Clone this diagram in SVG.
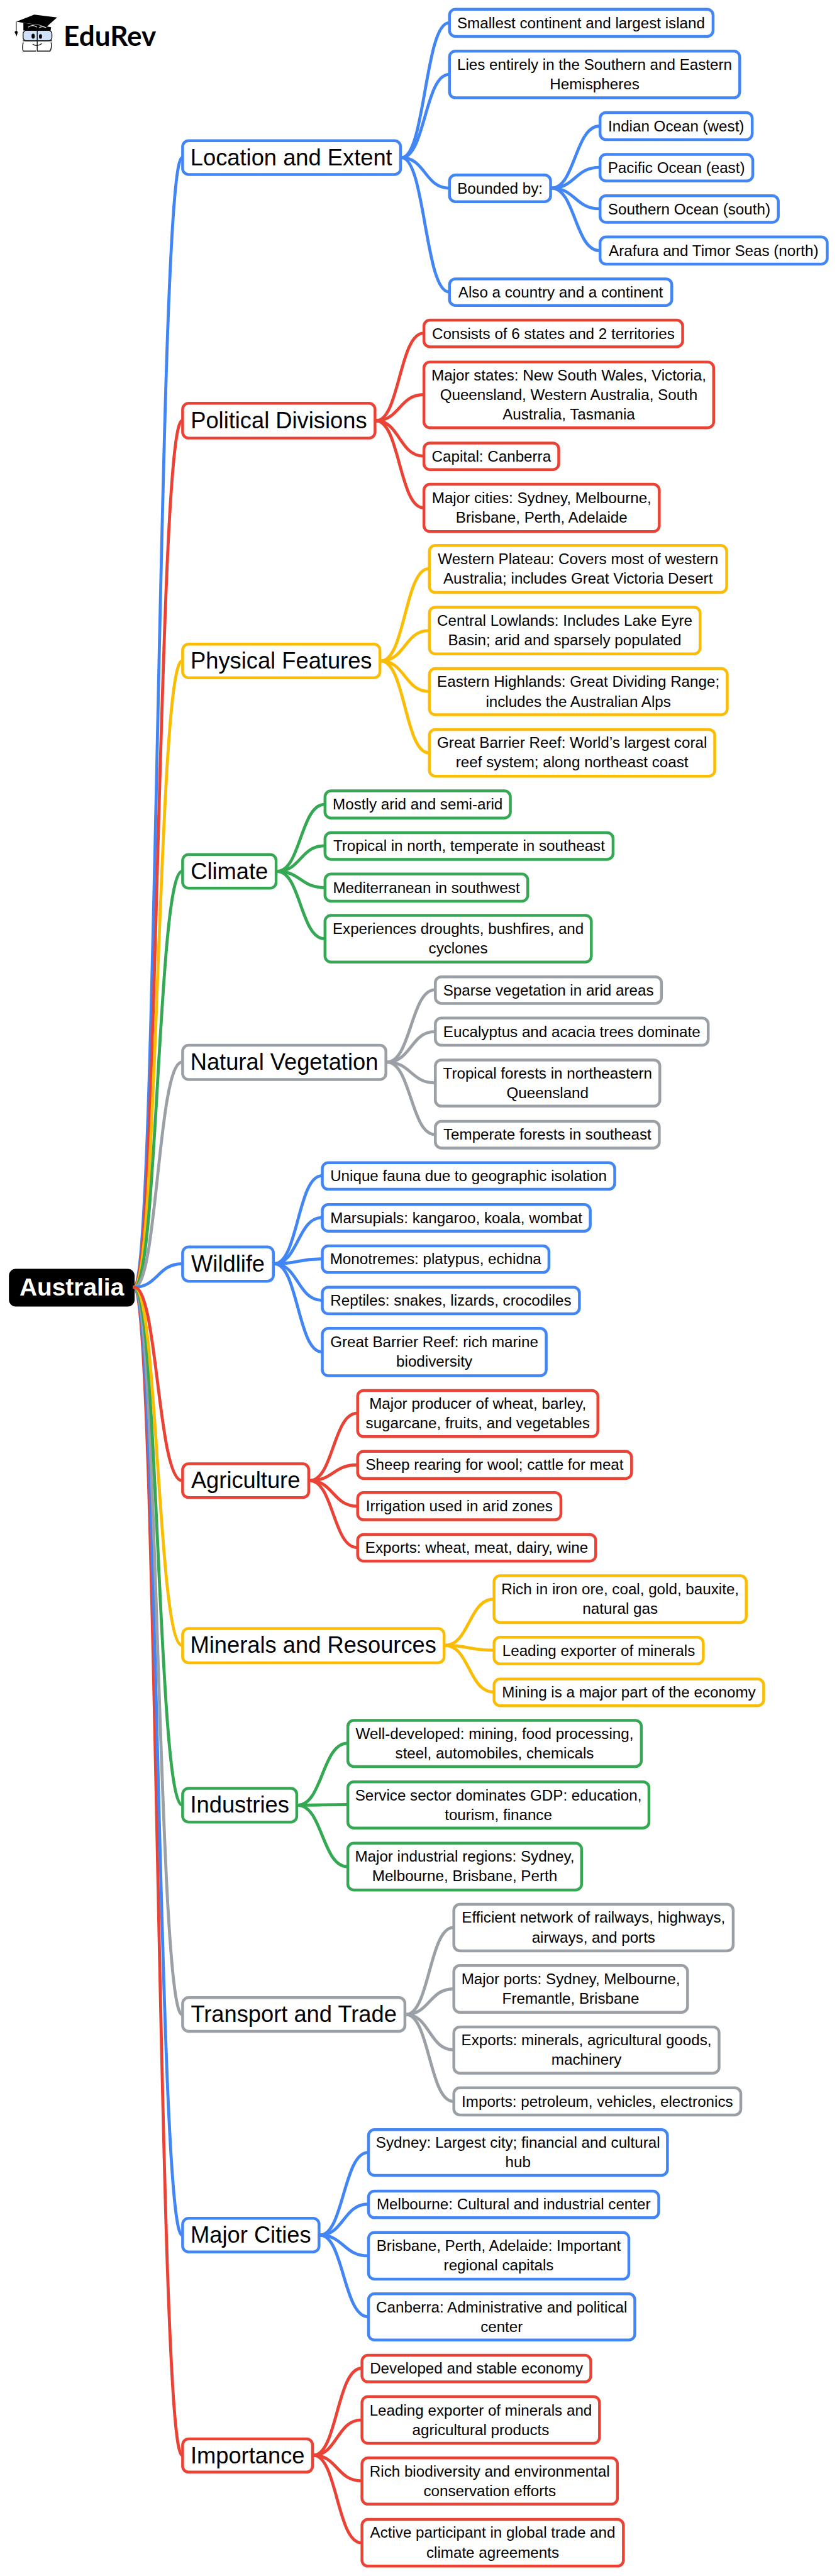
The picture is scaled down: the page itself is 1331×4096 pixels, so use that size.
<svg xmlns="http://www.w3.org/2000/svg" width="1331" height="4096" viewBox="0 0 1331 4096">
<style>
text{font-family:"Liberation Sans",Arial,sans-serif;fill:#000;text-anchor:middle}
.l{font-size:28px}.c{font-size:42px}
.r{font-size:45px;font-weight:700;fill:#fff}
rect{fill:#fff;stroke-width:5.2}
.blue rect,path.blue{stroke:#4285f4}.red rect,path.red{stroke:#ea4335}.yel rect,path.yel{stroke:#fbbc04}.grn rect,path.grn{stroke:#34a853}.gry rect,path.gry{stroke:#9aa0a6}
#links path{fill:none;stroke-width:5.6;stroke-linecap:round}
</style>
<rect width="1331" height="4096" style="fill:#fff;stroke:none"/>
<g transform="scale(0.8643)">
<g id="logo">
<path d="M30 40L63 27L105 32L85 50L74 46L43 42Z" fill="#000"/>
<path d="M43 42L94 50L93 57L43 56Z" fill="#000"/>
<path d="M52 50Q60 44 68 50M72 51Q78 47 85 51" fill="none" stroke="#fff" stroke-width="1.200"/>
<path d="M30 40V57M30 57L27.500 59L30.500 65L32 59Z" fill="#000" stroke="#000" stroke-width="1.200"/>
<rect x="42.500" y="56" width="53" height="19" rx="6" style="fill:#cfe0fb;stroke:#111;stroke-width:1.600"/>
<path d="M43 78C41 82 41 92 43 94H66M69 94H92C95 90 95 82 94 78M42 75H96M68.500 55V95" fill="none" stroke="#111" stroke-width="1.600"/>
<path d="M60 81Q68 87 77 80" fill="none" stroke="#111" stroke-width="1.500"/>
<ellipse cx="61" cy="66.500" rx="3" ry="4.500" fill="#000"/>
<ellipse cx="74.500" cy="67" rx="2.800" ry="4.300" fill="#000"/>
<text x="117" y="84" style="font-family:Lato,sans-serif;font-weight:700;font-size:51px;text-anchor:start">EduRev</text>
</g>
<g id="nodes">
<g id="root"><rect x="19" y="2337" width="226" height="64" rx="10" style="fill:#000;stroke:#000"/><text class="r" x="132" y="2384">Australia</text></g>

<g class="blue">
<g id="n1"><rect x="336" y="259" width="401" height="62" rx="11"/><text class="c" x="536" y="304">Location and Extent</text></g>
<g id="n1a"><rect x="827" y="17" width="485" height="50" rx="11"/><text class="l" x="1069" y="51.500">Smallest continent and largest island</text></g>
<g id="n1b"><rect x="827" y="94" width="534" height="86" rx="11"/><text class="l" x="1094" y="128.500">Lies entirely in the Southern and Eastern</text><text class="l" x="1094" y="164.500">Hemispheres</text></g>
<g id="n1c"><rect x="827" y="322" width="186" height="49" rx="11"/><text class="l" x="920" y="356.500">Bounded by:</text></g>
<g id="n1c1"><rect x="1104" y="207" width="280" height="50" rx="11"/><text class="l" x="1244" y="241.500">Indian Ocean (west)</text></g>
<g id="n1c2"><rect x="1104" y="284" width="281" height="49" rx="11"/><text class="l" x="1244.500" y="318">Pacific Ocean (east)</text></g>
<g id="n1c3"><rect x="1104" y="360" width="328" height="49" rx="11"/><text class="l" x="1268" y="394.500">Southern Ocean (south)</text></g>
<g id="n1c4"><rect x="1104" y="436" width="418" height="50" rx="11"/><text class="l" x="1313" y="470.500">Arafura and Timor Seas (north)</text></g>
<g id="n1d"><rect x="827" y="513" width="409" height="49" rx="11"/><text class="l" x="1031.500" y="547">Also a country and a continent</text></g>
</g>

<g class="red">
<g id="n2"><rect x="336" y="742" width="354" height="64" rx="11"/><text class="c" x="513" y="788">Political Divisions</text></g>
<g id="n2a"><rect x="780" y="589" width="476" height="49" rx="11"/><text class="l" x="1018" y="623.500">Consists of 6 states and 2 territories</text></g>
<g id="n2b"><rect x="780" y="666" width="533" height="121" rx="11"/><text class="l" x="1046.500" y="700">Major states: New South Wales, Victoria,</text><text class="l" x="1046.500" y="736">Queensland, Western Australia, South</text><text class="l" x="1046.500" y="772">Australia, Tasmania</text></g>
<g id="n2c"><rect x="780" y="815" width="248" height="49" rx="11"/><text class="l" x="904" y="849.500">Capital: Canberra</text></g>
<g id="n2d"><rect x="780" y="891" width="433" height="87" rx="11"/><text class="l" x="996.500" y="926">Major cities: Sydney, Melbourne,</text><text class="l" x="996.500" y="962">Brisbane, Perth, Adelaide</text></g>
</g>

<g class="yel">
<g id="n3"><rect x="336" y="1185" width="363" height="62" rx="11"/><text class="c" x="517.500" y="1230">Physical Features</text></g>
<g id="n3a"><rect x="790" y="1003.500" width="547" height="86.500" rx="11"/><text class="l" x="1063.500" y="1038">Western Plateau: Covers most of western</text><text class="l" x="1063.500" y="1074">Australia; includes Great Victoria Desert</text></g>
<g id="n3b"><rect x="790" y="1117" width="498" height="86" rx="11"/><text class="l" x="1039" y="1151">Central Lowlands: Includes Lake Eyre</text><text class="l" x="1039" y="1187">Basin; arid and sparsely populated</text></g>
<g id="n3c"><rect x="790" y="1230" width="548" height="85" rx="11"/><text class="l" x="1064" y="1264">Eastern Highlands: Great Dividing Range;</text><text class="l" x="1064" y="1300">includes the Australian Alps</text></g>
<g id="n3d"><rect x="790" y="1342" width="525" height="86" rx="11"/><text class="l" x="1052.500" y="1376">Great Barrier Reef: World’s largest coral</text><text class="l" x="1052.500" y="1412">reef system; along northeast coast</text></g>
</g>

<g class="grn">
<g id="n4"><rect x="336" y="1572" width="172" height="62" rx="11"/><text class="c" x="422" y="1617">Climate</text></g>
<g id="n4a"><rect x="598" y="1455" width="341" height="50" rx="11"/><text class="l" x="768.500" y="1489.500">Mostly arid and semi-arid</text></g>
<g id="n4b"><rect x="598" y="1532" width="530" height="49" rx="11"/><text class="l" x="863" y="1566">Tropical in north, temperate in southeast</text></g>
<g id="n4c"><rect x="598" y="1608" width="373" height="50" rx="11"/><text class="l" x="784.500" y="1642.500">Mediterranean in southwest</text></g>
<g id="n4d"><rect x="598" y="1684" width="490" height="86" rx="11"/><text class="l" x="843" y="1718">Experiences droughts, bushfires, and</text><text class="l" x="843" y="1754">cyclones</text></g>
</g>

<g class="gry">
<g id="n5"><rect x="336" y="1923" width="374" height="63" rx="11"/><text class="c" x="523" y="1968">Natural Vegetation</text></g>
<g id="n5a"><rect x="801" y="1797" width="416" height="49" rx="11"/><text class="l" x="1009" y="1831">Sparse vegetation in arid areas</text></g>
<g id="n5b"><rect x="801" y="1873" width="502" height="50" rx="11"/><text class="l" x="1052" y="1907.500">Eucalyptus and acacia trees dominate</text></g>
<g id="n5c"><rect x="801" y="1950" width="413" height="85" rx="11"/><text class="l" x="1007.500" y="1984">Tropical forests in northeastern</text><text class="l" x="1007.500" y="2020">Queensland</text></g>
<g id="n5d"><rect x="801" y="2063" width="412" height="49" rx="11"/><text class="l" x="1007" y="2097">Temperate forests in southeast</text></g>
</g>

<g class="blue">
<g id="n6"><rect x="336" y="2294" width="167" height="63" rx="11"/><text class="c" x="419.500" y="2339">Wildlife</text></g>
<g id="n6a"><rect x="593" y="2139" width="538" height="49" rx="11"/><text class="l" x="862" y="2173">Unique fauna due to geographic isolation</text></g>
<g id="n6b"><rect x="593" y="2216" width="493" height="49" rx="11"/><text class="l" x="839.500" y="2250">Marsupials: kangaroo, koala, wombat</text></g>
<g id="n6c"><rect x="593" y="2292" width="417" height="49" rx="11"/><text class="l" x="801.500" y="2326">Monotremes: platypus, echidna</text></g>
<g id="n6d"><rect x="593" y="2368" width="473" height="49" rx="11"/><text class="l" x="829.500" y="2402">Reptiles: snakes, lizards, crocodiles</text></g>
<g id="n6e"><rect x="593" y="2444" width="412" height="87" rx="11"/><text class="l" x="799" y="2478.500">Great Barrier Reef: rich marine</text><text class="l" x="799" y="2514.500">biodiversity</text></g>
</g>

<g class="red">
<g id="n7"><rect x="336" y="2693" width="232" height="62" rx="11"/><text class="c" x="452" y="2738">Agriculture</text></g>
<g id="n7a"><rect x="658" y="2558" width="442" height="85" rx="11"/><text class="l" x="879" y="2592">Major producer of wheat, barley,</text><text class="l" x="879" y="2628">sugarcane, fruits, and vegetables</text></g>
<g id="n7b"><rect x="658" y="2670" width="504" height="50" rx="11"/><text class="l" x="910" y="2704.500">Sheep rearing for wool; cattle for meat</text></g>
<g id="n7c"><rect x="658" y="2746" width="374" height="50" rx="11"/><text class="l" x="845" y="2780.500">Irrigation used in arid zones</text></g>
<g id="n7d"><rect x="658" y="2823" width="438" height="49" rx="11"/><text class="l" x="877" y="2857">Exports: wheat, meat, dairy, wine</text></g>
</g>

<g class="yel">
<g id="n8"><rect x="336" y="2996" width="481" height="63" rx="11"/><text class="c" x="576.500" y="3041">Minerals and Resources</text></g>
<g id="n8a"><rect x="909" y="2899" width="464" height="86" rx="11"/><text class="l" x="1141" y="2933">Rich in iron ore, coal, gold, bauxite,</text><text class="l" x="1141" y="2969">natural gas</text></g>
<g id="n8b"><rect x="909" y="3012" width="385" height="49" rx="11"/><text class="l" x="1101.500" y="3046">Leading exporter of minerals</text></g>
<g id="n8c"><rect x="909" y="3089" width="496" height="49" rx="11"/><text class="l" x="1157" y="3123">Mining is a major part of the economy</text></g>
</g>

<g class="grn">
<g id="n9"><rect x="336" y="3290" width="210" height="62" rx="11"/><text class="c" x="441" y="3335">Industries</text></g>
<g id="n9a"><rect x="640" y="3165" width="540" height="85" rx="11"/><text class="l" x="910" y="3199">Well-developed: mining, food processing,</text><text class="l" x="910" y="3235">steel, automobiles, chemicals</text></g>
<g id="n9b"><rect x="640" y="3278" width="554" height="85" rx="11"/><text class="l" x="917" y="3312">Service sector dominates GDP: education,</text><text class="l" x="917" y="3348">tourism, finance</text></g>
<g id="n9c"><rect x="640" y="3391" width="430" height="86" rx="11"/><text class="l" x="855" y="3425">Major industrial regions: Sydney,</text><text class="l" x="855" y="3461">Melbourne, Brisbane, Perth</text></g>
</g>

<g class="gry">
<g id="n10"><rect x="336" y="3675" width="409" height="62" rx="11"/><text class="c" x="540.500" y="3720">Transport and Trade</text></g>
<g id="n10a"><rect x="835" y="3503.500" width="514" height="85.500" rx="11"/><text class="l" x="1092" y="3537.500">Efficient network of railways, highways,</text><text class="l" x="1092" y="3573.500">airways, and ports</text></g>
<g id="n10b"><rect x="835" y="3616" width="430" height="86" rx="11"/><text class="l" x="1050" y="3650">Major ports: Sydney, Melbourne,</text><text class="l" x="1050" y="3686">Fremantle, Brisbane</text></g>
<g id="n10c"><rect x="835" y="3729" width="488" height="85" rx="11"/><text class="l" x="1079" y="3763">Exports: minerals, agricultural goods,</text><text class="l" x="1079" y="3799">machinery</text></g>
<g id="n10d"><rect x="835" y="3841" width="528" height="50" rx="11"/><text class="l" x="1099" y="3875.500">Imports: petroleum, vehicles, electronics</text></g>
</g>

<g class="blue">
<g id="n11"><rect x="336" y="4081" width="251" height="62" rx="11"/><text class="c" x="461.500" y="4126">Major Cities</text></g>
<g id="n11a"><rect x="678" y="3918" width="550" height="84" rx="11"/><text class="l" x="953" y="3951">Sydney: Largest city; financial and cultural</text><text class="l" x="953" y="3987">hub</text></g>
<g id="n11b"><rect x="678" y="4031" width="534" height="49" rx="11"/><text class="l" x="945" y="4065">Melbourne: Cultural and industrial center</text></g>
<g id="n11c"><rect x="678" y="4107" width="479" height="86" rx="11"/><text class="l" x="917.500" y="4141">Brisbane, Perth, Adelaide: Important</text><text class="l" x="917.500" y="4177">regional capitals</text></g>
<g id="n11d"><rect x="678" y="4220" width="490" height="85" rx="11"/><text class="l" x="923" y="4254">Canberra: Administrative and political</text><text class="l" x="923" y="4290">center</text></g>
</g>

<g class="red">
<g id="n12"><rect x="336" y="4487" width="239" height="61" rx="11"/><text class="c" x="455.500" y="4532">Importance</text></g>
<g id="n12a"><rect x="666" y="4333" width="421" height="49" rx="11"/><text class="l" x="876.500" y="4367">Developed and stable economy</text></g>
<g id="n12b"><rect x="666" y="4409" width="437" height="86" rx="11"/><text class="l" x="884.500" y="4443.500">Leading exporter of minerals and</text><text class="l" x="884.500" y="4479.500">agricultural products</text></g>
<g id="n12c"><rect x="666" y="4522" width="470" height="85" rx="11"/><text class="l" x="901" y="4556">Rich biodiversity and environmental</text><text class="l" x="901" y="4592">conservation efforts</text></g>
<g id="n12d"><rect x="666" y="4635" width="481" height="86" rx="11"/><text class="l" x="906.500" y="4669">Active participant in global trade and</text><text class="l" x="906.500" y="4705">climate agreements</text></g>
</g>
</g>

<g id="links">
<path class="blue" d="M247 2368C290 2368 290 290 335 290"/>
<path class="red" d="M247 2368C290 2368 290 774 335 774"/>
<path class="yel" d="M247 2368C290 2368 290 1216 335 1216"/>
<path class="grn" d="M247 2368C290 2368 290 1603 335 1603"/>
<path class="gry" d="M247 2368C290 2368 290 1954 335 1954"/>
<path class="blue" d="M247 2368C290 2368 290 2325 335 2325"/>
<path class="red" d="M247 2368C290 2368 290 4517 335 4517"/>
<path class="blue" d="M247 2368C290 2368 290 4112 335 4112"/>
<path class="gry" d="M247 2368C290 2368 290 3706 335 3706"/>
<path class="grn" d="M247 2368C290 2368 290 3321 335 3321"/>
<path class="yel" d="M247 2368C290 2368 290 3027 335 3027"/>
<path class="red" d="M247 2368C290 2368 290 2724 335 2724"/>

<path class="blue" d="M739 290C782 290 782 42 826 42"/>
<path class="blue" d="M739 290C782 290 782 137 826 137"/>
<path class="blue" d="M739 290C782 290 782 346 826 346"/>
<path class="blue" d="M739 290C782 290 782 537 826 537"/>
<path class="blue" d="M1015 346C1058 346 1058 232 1103 232"/>
<path class="blue" d="M1015 346C1058 346 1058 308 1103 308"/>
<path class="blue" d="M1015 346C1058 346 1058 384 1103 384"/>
<path class="blue" d="M1015 346C1058 346 1058 461 1103 461"/>

<path class="red" d="M692 774C735 774 735 613 779 613"/>
<path class="red" d="M692 774C735 774 735 726 779 726"/>
<path class="red" d="M692 774C735 774 735 839 779 839"/>
<path class="red" d="M692 774C735 774 735 934 779 934"/>

<path class="yel" d="M701 1216C745 1216 745 1046 789 1046"/>
<path class="yel" d="M701 1216C745 1216 745 1160 789 1160"/>
<path class="yel" d="M701 1216C745 1216 745 1272 789 1272"/>
<path class="yel" d="M701 1216C745 1216 745 1385 789 1385"/>

<path class="grn" d="M510 1603C553 1603 553 1480 597 1480"/>
<path class="grn" d="M510 1603C553 1603 553 1556 597 1556"/>
<path class="grn" d="M510 1603C553 1603 553 1633 597 1633"/>
<path class="grn" d="M510 1603C553 1603 553 1727 597 1727"/>

<path class="gry" d="M712 1954C756 1954 756 1821 800 1821"/>
<path class="gry" d="M712 1954C756 1954 756 1898 800 1898"/>
<path class="gry" d="M712 1954C756 1954 756 1992 800 1992"/>
<path class="gry" d="M712 1954C756 1954 756 2087 800 2087"/>

<path class="blue" d="M505 2325C548 2325 548 2163 592 2163"/>
<path class="blue" d="M505 2325C548 2325 548 2240 592 2240"/>
<path class="blue" d="M505 2325C548 2325 548 2316 592 2316"/>
<path class="blue" d="M505 2325C548 2325 548 2392 592 2392"/>
<path class="blue" d="M505 2325C548 2325 548 2487 592 2487"/>

<path class="red" d="M570 2724C613 2724 613 2600 657 2600"/>
<path class="red" d="M570 2724C613 2724 613 2695 657 2695"/>
<path class="red" d="M570 2724C613 2724 613 2771 657 2771"/>
<path class="red" d="M570 2724C613 2724 613 2847 657 2847"/>

<path class="yel" d="M819 3027C863 3027 863 2942 908 2942"/>
<path class="yel" d="M819 3027C863 3027 863 3036 908 3036"/>
<path class="yel" d="M819 3027C863 3027 863 3113 908 3113"/>

<path class="grn" d="M548 3321C593 3321 593 3207 639 3207"/>
<path class="grn" d="M548 3321C593 3321 593 3320 639 3320"/>
<path class="grn" d="M548 3321C593 3321 593 3434 639 3434"/>

<path class="gry" d="M747 3706C790 3706 790 3546 834 3546"/>
<path class="gry" d="M747 3706C790 3706 790 3659 834 3659"/>
<path class="gry" d="M747 3706C790 3706 790 3771 834 3771"/>
<path class="gry" d="M747 3706C790 3706 790 3866 834 3866"/>

<path class="blue" d="M589 4112C632 4112 632 3960 677 3960"/>
<path class="blue" d="M589 4112C632 4112 632 4055 677 4055"/>
<path class="blue" d="M589 4112C632 4112 632 4150 677 4150"/>
<path class="blue" d="M589 4112C632 4112 632 4262 677 4262"/>

<path class="red" d="M577 4517C620 4517 620 4357 665 4357"/>
<path class="red" d="M577 4517C620 4517 620 4452 665 4452"/>
<path class="red" d="M577 4517C620 4517 620 4564 665 4564"/>
<path class="red" d="M577 4517C620 4517 620 4678 665 4678"/>
</g>
</g>
</svg>
